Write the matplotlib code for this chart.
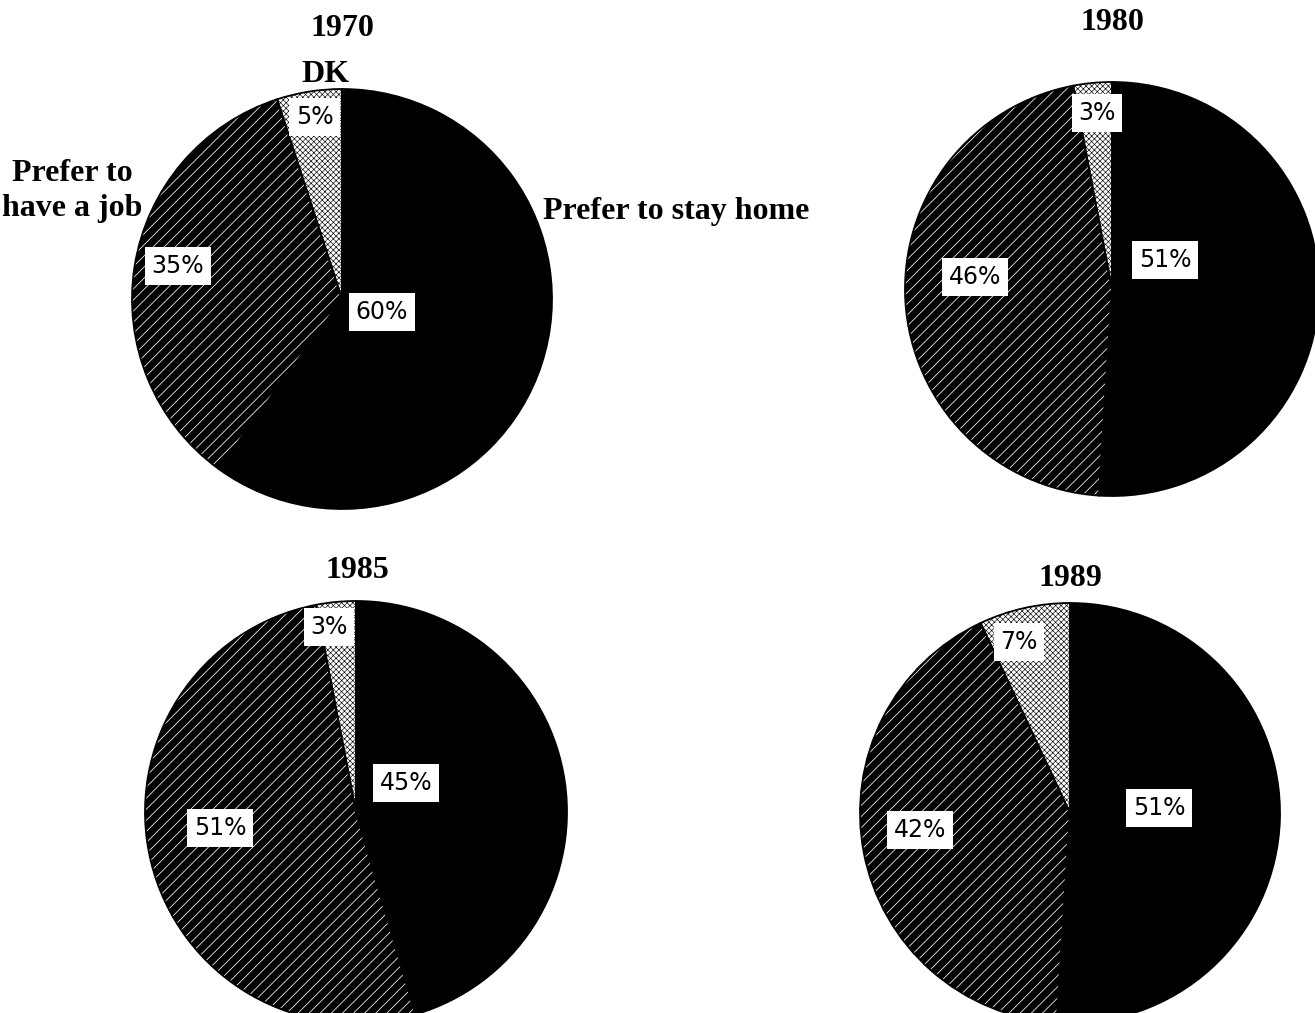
import matplotlib
matplotlib.use('Agg')
import matplotlib.pyplot as plt

# ---- data ----
years = ['1970', '1980', '1985', '1989']
stay_home = [60, 51, 45, 51]
have_job = [35, 46, 51, 42]
dont_know = [5, 3, 3, 7]
category_labels = ['Prefer to stay home', 'Prefer to\nhave a job', 'DK']

# ---- layout (pixels in a 1315x1013 canvas, y down) ----
W, H = 1315, 1013
pie_geom = [(342, 299, 210), (1112, 289, 207), (356, 812, 211), (1070, 813, 210)]
title_pos = [(342, 28), (1112, 22), (357, 570), (1070, 578)]
# label offsets in units of radius: stay, job, dk
label_off = [
    [(0.19, -0.062), (-0.781, 0.157), (-0.129, 0.867)],
    [(0.256, 0.140), (-0.662, 0.058), (-0.072, 0.850)],
    [(0.237, 0.137), (-0.645, -0.076), (-0.128, 0.877)],
    [(0.424, 0.024), (-0.714, -0.081), (-0.243, 0.814)],
]

serif = ['Liberation Serif', 'DejaVu Serif']
fig = plt.figure(figsize=(W / 100, H / 100), dpi=100)


def set_hlw(patch, lw):
    if hasattr(patch, 'set_hatch_linewidth'):
        patch.set_hatch_linewidth(lw)


plt.rcParams['hatch.linewidth'] = 0.6
L = 1.04
for i, yr in enumerate(years):
    cx, cy, r = pie_geom[i]
    s = r * L
    ax = fig.add_axes([(cx - s) / W, (H - cy - s) / H, 2 * s / W, 2 * s / H])
    vals = [stay_home[i], have_job[i], dont_know[i]]
    wedges, _ = ax.pie(vals, startangle=90, counterclock=False,
                       colors=['black', 'black', 'white'],
                       wedgeprops=dict(linewidth=0))
    wedges[1].set_edgecolor('white')
    wedges[1].set_linewidth(0)
    wedges[1].set_hatch('///')
    set_hlw(wedges[1], 0.55)
    wedges[2].set_edgecolor('black')
    wedges[2].set_linewidth(0)
    wedges[2].set_hatch('xxxxxx')
    set_hlw(wedges[2], 0.45)
    ax.pie(vals, startangle=90, counterclock=False,
           wedgeprops=dict(fill=False, edgecolor='black', linewidth=1.3))
    ax.set_xlim(-L, L)
    ax.set_ylim(-L, L)
    ax.set_aspect('auto')
    ax.axis('off')
    for v, (ox, oy) in zip(vals, label_off[i]):
        ax.text(ox, oy, f'{v}%', ha='center', va='center', fontsize=17,
                family='DejaVu Sans', zorder=5,
                bbox=dict(boxstyle='square,pad=0.28', fc='white', ec='none'))
    tx, ty = title_pos[i]
    fig.text(tx / W, 1 - ty / H, yr, ha='center', va='center',
             fontsize=23, fontweight='bold', family=serif)

fig.text(326 / W, 1 - 75 / H, category_labels[2], ha='center', va='center',
         fontsize=23, fontweight='bold', family=serif)
fig.text(72 / W, 1 - 191 / H, category_labels[1], ha='center', va='center',
         fontsize=23, fontweight='bold', family=serif, linespacing=1.25)
fig.text(543 / W, 1 - 212 / H, category_labels[0], ha='left', va='center',
         fontsize=23, fontweight='bold', family=serif)

fig.savefig('out.png', dpi=100, facecolor='white')
